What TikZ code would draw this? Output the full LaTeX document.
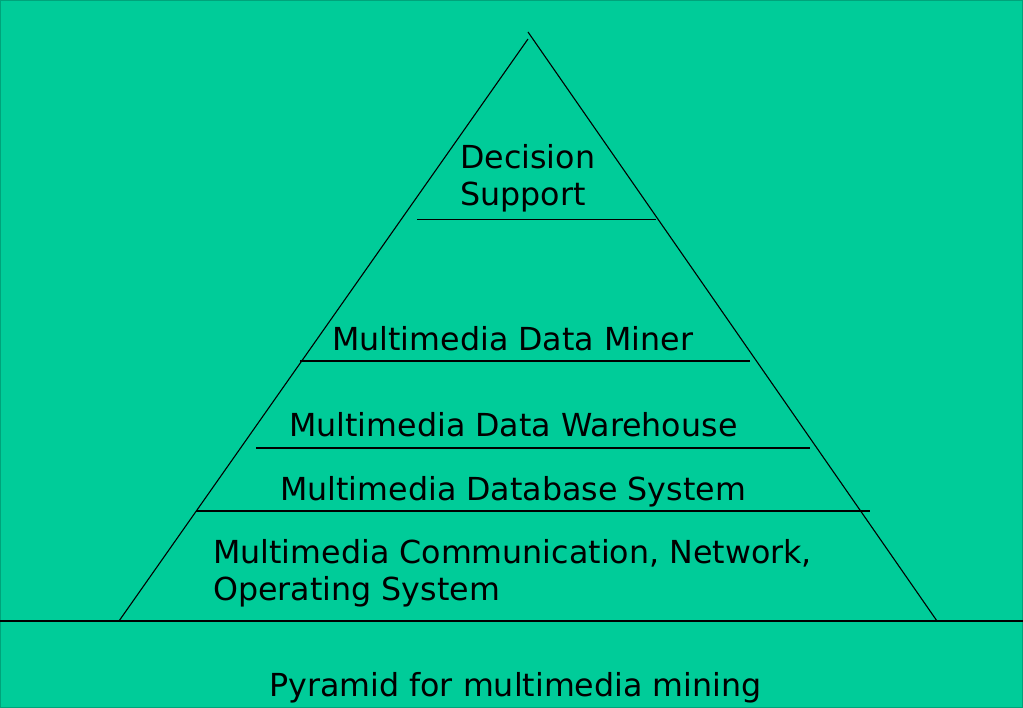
\documentclass[tikz,border=0pt]{standalone}
\usepackage{fontspec}
\setmainfont{DejaVu Sans}
\definecolor{bg}{HTML}{00CC99}
\definecolor{edgegreen}{HTML}{00A37A}
\begin{document}
\begin{tikzpicture}[x=1pt,y=-1pt,
  lbl/.style={anchor=base west, inner sep=0pt, font=\fontsize{31.7}{37}\selectfont, text=black},
  rule/.style={draw=black, line width=1.1pt}]
\useasboundingbox (0,0) rectangle (1023,708);
\fill[bg] (0,0) rectangle (1023,708);
\draw[edgegreen, line width=2pt] (0,0) rectangle (1023,708);
% pyramid
\coordinate (apex) at (528,32);
\coordinate (apexL) at (528,39);
\coordinate (bl) at (119,621);
\coordinate (br) at (937,621);
\draw[rule] (apex) -- (br);
\draw[rule] (apexL) -- (bl);
% full-width base line
\coordinate (gl) at (0,621);
\coordinate (gr) at (1023,621);
\draw[rule] (gl) -- (gr);
% layer separators
\coordinate (l1a) at (417,219.5); \coordinate (l1b) at (656,219.5);
\coordinate (l2a) at (300,361);   \coordinate (l2b) at (750,361);
\coordinate (l3a) at (256,448);   \coordinate (l3b) at (810,448);
\coordinate (l4a) at (196,511);   \coordinate (l4b) at (870,511);
\draw[rule] (l1a) -- (l1b);
\draw[rule] (l2a) -- (l2b);
\draw[rule] (l3a) -- (l3b);
\draw[rule] (l4a) -- (l4b);
% labels (base anchor of a two-line node is the last line's baseline)
\node[lbl, align=left] (ds) at (460,206) {Decision\\Support};
\node[lbl] (miner) at (332,351) {Multimedia Data Miner};
\node[lbl] (wh) at (289,437) {Multimedia Data Warehouse};
\node[lbl] (dbs) at (280,500.5) {Multimedia Database System};
\node[lbl, align=left] (comm) at (213,600) {Multimedia Communication, Network,\\Operating System};
\node[lbl] (cap) at (269,696) {Pyramid for multimedia mining};
\end{tikzpicture}
\end{document}
